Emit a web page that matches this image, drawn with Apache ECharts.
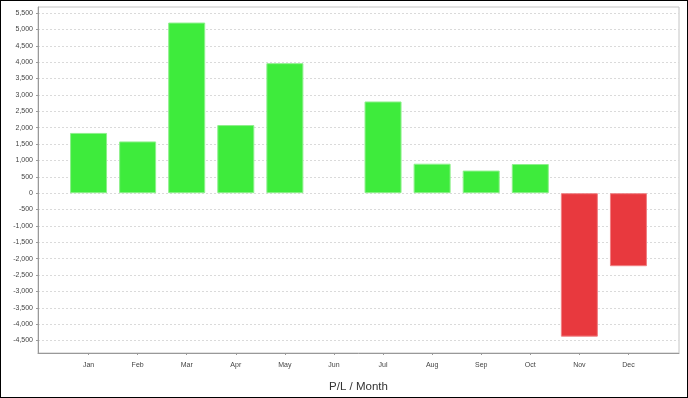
<!DOCTYPE html>
<html>
<head>
<meta charset="utf-8">
<script src="https://cdn.jsdelivr.net/npm/echarts@6/dist/echarts.min.js"></script>
<style>
html, body { margin: 0; padding: 0; background: #fff; }
#chart { width: 688px; height: 398px; }
#frame { position: absolute; left: 0; top: 0; width: 688px; height: 398px; box-sizing: border-box; border: 1px solid #000; pointer-events: none; }
</style>
</head>
<body>
<div id="chart"></div>
<div id="frame"></div>
<script>
var months = ['Jan', 'Feb', 'Mar', 'Apr', 'May', 'Jun', 'Jul', 'Aug', 'Sep', 'Oct', 'Nov', 'Dec'];
var profit = [1840, 1580, 5210, 2080, 3970, 0, 2800, 900, 690, 890, -4380, -2230];
var yTicks = [-4500, -4000, -3500, -3000, -2500, -2000, -1500, -1000, -500, 0, 500, 1000, 1500, 2000, 2500, 3000, 3500, 4000, 4500, 5000, 5500];
var monthIdx = months.map(function (m, i) { return i; });

var myChart = echarts.init(document.getElementById('chart'));

// 每个柱子按正负着色，0 值不画边框
var barData = profit.map(function (v, i) {
	var style = v >= 0
		? { color: '#3eeb3c', borderColor: '#8ef08c' }
		: { color: '#e8393e', borderColor: '#f08083' };
	if (v === 0) style.borderWidth = 0;
	return { value: [i, v], itemStyle: style };
});

myChart.setOption({
	animation: false,
	textStyle: { fontFamily: 'Liberation Sans, Arial, sans-serif' },
	grid: {
		left: 38, right: 9, top: 7, bottom: 45,
		show: true, borderColor: '#c4c4c4', borderWidth: 1
	},
	xAxis: {
		type: 'value',
		min: -1.03,
		max: 12.03,
		name: 'P/L / Month',
		nameLocation: 'middle',
		nameGap: 28,
		nameTextStyle: { fontSize: 11.5, color: '#333' },
		axisLine: { show: true, onZero: false, lineStyle: { color: '#999' } },
		axisTick: { show: true, length: 2, customValues: monthIdx, lineStyle: { color: '#999' } },
		axisLabel: {
			customValues: monthIdx,
			fontSize: 7, color: '#444', margin: 9,
			formatter: function (v) { return months[v]; }
		},
		splitLine: { show: false }
	},
	yAxis: {
		type: 'value',
		min: -4880,
		max: 5685,
		axisLine: { show: true, onZero: false, lineStyle: { color: '#999' } },
		axisTick: { show: true, length: 2, customValues: yTicks, lineStyle: { color: '#999' } },
		axisLabel: {
			customValues: yTicks,
			fontSize: 7, color: '#444', margin: 5,
			formatter: function (v) { return v.toLocaleString('en-US'); }
		},
		splitLine: { show: true, lineStyle: { color: '#dadada', type: [2, 2] } }
	},
	series: [{
		type: 'bar',
		barWidth: 37,
		itemStyle: { borderWidth: 1 },
		data: barData
	}]
});
</script>
</body>
</html>
